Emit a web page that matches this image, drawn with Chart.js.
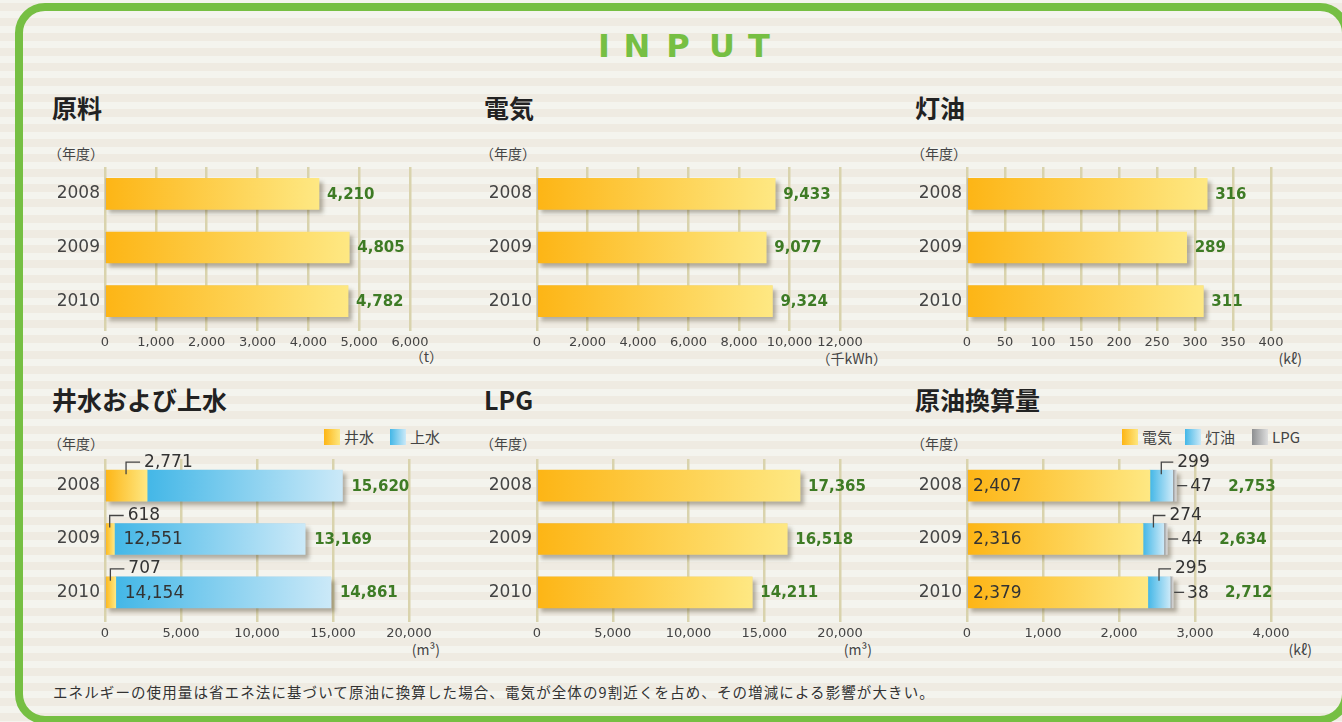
<!DOCTYPE html>
<html><head><meta charset="utf-8">
<script src="https://cdn.jsdelivr.net/npm/chart.js@4.4.1/dist/chart.umd.min.js"></script>
<style>
html,body{margin:0;padding:0;}
body{width:1342px;height:722px;overflow:hidden;position:relative;
 background:repeating-linear-gradient(to bottom,#f4f4ee 0px,#f4f4ee 2.9px,#efebe2 2.9px,#efebe2 10.9px,#f4f4ee 10.9px,#f4f4ee 15.116px);
 font-family:'Noto Sans CJK JP',sans-serif;color:#333;}
.frame{position:absolute;left:15px;top:3px;width:1335px;height:721px;box-sizing:border-box;border:8px solid #76bf43;border-radius:30px;}
.t{position:absolute;white-space:nowrap;}
.title{font-size:25px;font-weight:700;line-height:30px;color:#222;}
.nendo{font-size:14px;line-height:16px;color:#444;}
.unit{font-size:14px;line-height:16px;color:#444;text-align:right;}
.lg{font-size:15px;line-height:18px;color:#444;}
.sq{position:absolute;width:16px;height:16px;}
.ltr{position:absolute;width:40px;text-align:center;font-family:'DejaVu Sans';font-weight:bold;font-size:32px;line-height:40px;color:#76bf43;top:26px;}
canvas{position:absolute;}
</style></head><body>
<div class="frame"></div>
<span class="ltr" style="left:584px">I</span>
<span class="ltr" style="left:617px">N</span>
<span class="ltr" style="left:658px">P</span>
<span class="ltr" style="left:702px">U</span>
<span class="ltr" style="left:739px">T</span>

<div class="t title" style="left:52px;top:92px">原料</div>
<div class="t title" style="left:484px;top:92px">電気</div>
<div class="t title" style="left:915px;top:92px">灯油</div>
<div class="t title" style="left:52px;top:384px">井水および上水</div>
<div class="t title" style="left:484px;top:384px">LPG</div>
<div class="t title" style="left:915px;top:384px">原油換算量</div>

<div class="t nendo" style="left:48px;top:145px">（年度）</div>
<div class="t nendo" style="left:480px;top:145px">（年度）</div>
<div class="t nendo" style="left:911px;top:145px">（年度）</div>
<div class="t nendo" style="left:48px;top:435px">（年度）</div>
<div class="t nendo" style="left:480px;top:435px">（年度）</div>
<div class="t nendo" style="left:911px;top:435px">（年度）</div>

<div class="t unit" style="right:899px;top:348px">（t）</div>
<div class="t unit" style="right:455px;top:350px">（千kWh）</div>
<div class="t unit" style="right:40px;top:350px">(kℓ)</div>
<div class="t unit" style="right:902px;top:641px">(m³)</div>
<div class="t unit" style="right:470px;top:641px">(m³)</div>
<div class="t unit" style="right:30px;top:641px">(kℓ)</div>

<div class="sq" style="left:324px;top:429px;background:linear-gradient(to right,#fdb515,#fee77f)"></div>
<div class="t lg" style="left:344px;top:428px">井水</div>
<div class="sq" style="left:390px;top:429px;background:linear-gradient(to right,#43b7e7,#cbe9f8)"></div>
<div class="t lg" style="left:410px;top:428px">上水</div>

<div class="sq" style="left:1122px;top:429px;background:linear-gradient(to right,#fdb515,#fee77f)"></div>
<div class="t lg" style="left:1142px;top:428px">電気</div>
<div class="sq" style="left:1185px;top:429px;background:linear-gradient(to right,#43b7e7,#cbe9f8)"></div>
<div class="t lg" style="left:1205px;top:428px">灯油</div>
<div class="sq" style="left:1252px;top:429px;background:linear-gradient(to right,#8d8f91,#dedede)"></div>
<div class="t lg" style="left:1272px;top:428px">LPG</div>

<div class="t" style="left:53px;top:683px;font-size:14.5px;line-height:18px;letter-spacing:1.1px;color:#333">エネルギーの使用量は省エネ法に基づいて原油に換算した場合、電気が全体の9割近くを占め、その増減による影響が大きい。</div>

<script>
// ---- data ----
const years = ['2008', '2009', '2010'];
const rawMaterial = [4210, 4805, 4782];      // t
const electricity = [9433, 9077, 9324];      // 千kWh
const kerosene = [316, 289, 311];            // kℓ
const wellWater = [2771, 618, 707];          // m3
const cityWater = [12849, 12551, 14154];     // m3
const waterTotal = [15620, 13169, 14861];
const lpgUse = [17365, 16518, 14211];        // m3
const crudeElec = [2407, 2316, 2379];        // kℓ
const crudeKero = [299, 274, 295];
const crudeLpg = [47, 44, 38];
const crudeTotal = [2753, 2634, 2712];

const ticksRaw = [0, 1000, 2000, 3000, 4000, 5000, 6000];
const ticksElec = [0, 2000, 4000, 6000, 8000, 10000, 12000];
const ticksKero = [0, 50, 100, 150, 200, 250, 300, 350, 400];
const ticksWater = [0, 5000, 10000, 15000, 20000];
const ticksLpg = [0, 5000, 10000, 15000, 20000];
const ticksCrude = [0, 1000, 2000, 3000, 4000];

// ---- styles ----
const ORANGE = ['#fdb515', '#fee883'];
const BLUE = ['#43b7e7', '#cbe9f8'];
const GRAY = ['#8d8f91', '#dedede'];
const GREEN = '#3e7b25';
const FONT = '"DejaVu Sans"';
const fmt = v => v.toLocaleString('en-US');

function grad(c0, c1) {
  return ctx => {
    const ch = ctx.chart;
    if (ctx.type !== 'data' || !ch.chartArea || !ch.scales.x) return c0;
    const xs = ch.scales.x, ds = ch.data.datasets;
    let start = 0;
    for (let i = 0; i < ctx.datasetIndex; i++) start += ds[i].data[ctx.dataIndex];
    const x0 = xs.getPixelForValue(start), x1 = xs.getPixelForValue(start + ctx.raw);
    const g = ch.ctx.createLinearGradient(x0, 0, Math.max(x1, x0 + 1), 0);
    g.addColorStop(0, c0); g.addColorStop(1, c1);
    return g;
  };
}

const shadowPlugin = {
  id: 'barShadow',
  beforeDatasetsDraw(ch) {
    const c = ch.ctx, xs = ch.scales.x;
    const els = ch.getDatasetMeta(0).data;
    c.save();
    c.shadowColor = 'rgba(70,60,40,0.38)';
    c.shadowBlur = 4; c.shadowOffsetX = 4; c.shadowOffsetY = 4;
    c.fillStyle = '#bbbbbb';
    els.forEach((el, i) => {
      let tot = 0;
      ch.data.datasets.forEach(d => tot += d.data[i]);
      const x0 = xs.getPixelForValue(0), x1 = xs.getPixelForValue(tot);
      c.fillRect(x0, el.y - el.height / 2, x1 - x0, el.height);
    });
    c.restore();
  }
};

function makeChart(cfg) {
  const cv = document.createElement('canvas');
  const areaH = cfg.areaBottom - cfg.areaTop;
  const W = 60 + (cfg.maxX - cfg.zeroX) + 60, H = 24 + areaH + 32;
  cv.width = W; cv.height = H;
  cv.style.left = (cfg.zeroX - 60) + 'px';
  cv.style.top = (cfg.areaTop - 24) + 'px';
  cv.style.width = W + 'px'; cv.style.height = H + 'px';
  document.body.appendChild(cv);
  const tk = cfg.ticks;
  new Chart(cv, {
    type: 'bar',
    data: {
      labels: years,
      datasets: cfg.series.map(s => ({
        data: s.data, backgroundColor: grad(s.c[0], s.c[1]),
        barThickness: 31, borderWidth: 0
      }))
    },
    options: {
      responsive: false, animation: false, indexAxis: 'y',
      layout: { padding: { top: 24, right: 60, bottom: 0, left: 0 } },
      plugins: { legend: { display: false }, tooltip: { enabled: false } },
      scales: {
        x: {
          stacked: true, min: tk[0], max: tk[tk.length - 1],
          afterBuildTicks: s => { s.ticks = tk.map(v => ({ value: v })); },
          ticks: { padding: 4, color: '#444', font: { family: FONT, size: 13 },
                   callback: v => fmt(v), maxRotation: 0, autoSkip: false },
          grid: { color: '#d9d3ad', lineWidth: 2.5, drawTicks: true, tickLength: 3, tickColor: '#d9d3ad' },
          border: { display: false },
          afterFit: s => { s.height = 30; }
        },
        y: {
          stacked: true,
          ticks: { padding: 5, color: '#444', font: { family: FONT, size: 17 } },
          grid: { display: false, drawTicks: false }, border: { display: false },
          afterFit: s => { s.width = 60; }
        }
      }
    },
    plugins: [shadowPlugin, { id: 'notes', afterDatasetsDraw: cfg.notes }]
  });
}

function totalLabels(totals, offset) {
  return ch => {
    const c = ch.ctx, xs = ch.scales.x;
    const els = ch.getDatasetMeta(0).data;
    c.save();
    c.font = 'bold 15px ' + FONT; c.fillStyle = GREEN;
    c.textBaseline = 'middle'; c.textAlign = 'left';
    els.forEach((el, i) => c.fillText(fmt(totals[i]), xs.getPixelForValue(totals[i]) + offset, el.y + 1));
    c.restore();
  };
}

function leader(c, mx, top, text, len) {
  c.beginPath();
  c.moveTo(mx, top + 4); c.lineTo(mx, top - 8); c.lineTo(mx + len, top - 8);
  c.stroke();
  c.fillText(text, mx + len + 4, top - 8);
}

function setNoteStyle(c) {
  c.font = '17px ' + FONT; c.fillStyle = '#333'; c.strokeStyle = '#444';
  c.lineWidth = 1.3; c.textBaseline = 'middle'; c.textAlign = 'left';
}

// Row 1
makeChart({ zeroX: 105, maxX: 410, areaTop: 167, areaBottom: 326, ticks: ticksRaw,
  series: [{ data: rawMaterial, c: ORANGE }], notes: totalLabels(rawMaterial, 8) });
makeChart({ zeroX: 537, maxX: 840, areaTop: 167, areaBottom: 326, ticks: ticksElec,
  series: [{ data: electricity, c: ORANGE }], notes: totalLabels(electricity, 8) });
makeChart({ zeroX: 967, maxX: 1271, areaTop: 167, areaBottom: 326, ticks: ticksKero,
  series: [{ data: kerosene, c: ORANGE }], notes: totalLabels(kerosene, 8) });

// Row 2
makeChart({ zeroX: 105, maxX: 409, areaTop: 459, areaBottom: 617, ticks: ticksWater,
  series: [{ data: wellWater, c: ORANGE }, { data: cityWater, c: BLUE }],
  notes: ch => {
    totalLabels(waterTotal, 9)(ch);
    const c = ch.ctx, xs = ch.scales.x, els = ch.getDatasetMeta(0).data;
    c.save(); setNoteStyle(c);
    els.forEach((el, i) => {
      const top = el.y - el.height / 2;
      const mx = (xs.getPixelForValue(0) + xs.getPixelForValue(wellWater[i])) / 2;
      leader(c, mx, top, fmt(wellWater[i]), 14);
      if (i > 0) c.fillText(fmt(cityWater[i]), xs.getPixelForValue(wellWater[i]) + 9, el.y + 1);
    });
    c.restore();
  } });
makeChart({ zeroX: 537, maxX: 840, areaTop: 459, areaBottom: 617, ticks: ticksLpg,
  series: [{ data: lpgUse, c: ORANGE }], notes: totalLabels(lpgUse, 8) });
makeChart({ zeroX: 967, maxX: 1271, areaTop: 459, areaBottom: 617, ticks: ticksCrude,
  series: [{ data: crudeElec, c: ORANGE }, { data: crudeKero, c: BLUE }, { data: crudeLpg, c: GRAY }],
  notes: ch => {
    totalLabels(crudeTotal, 52)(ch);
    const c = ch.ctx, xs = ch.scales.x, els = ch.getDatasetMeta(0).data;
    c.save(); setNoteStyle(c);
    els.forEach((el, i) => {
      const top = el.y - el.height / 2;
      c.fillText(fmt(crudeElec[i]), xs.getPixelForValue(0) + 6, el.y + 1);
      const k0 = xs.getPixelForValue(crudeElec[i]), k1 = xs.getPixelForValue(crudeElec[i] + crudeKero[i]);
      leader(c, (k0 + k1) / 2, top, fmt(crudeKero[i]), 12);
      const tx = xs.getPixelForValue(crudeTotal[i]);
      c.beginPath(); c.moveTo(tx + 1, el.y); c.lineTo(tx + 11, el.y); c.stroke();
      c.fillText(fmt(crudeLpg[i]), tx + 14, el.y + 1);
    });
    c.restore();
  } });
</script>
</body></html>
